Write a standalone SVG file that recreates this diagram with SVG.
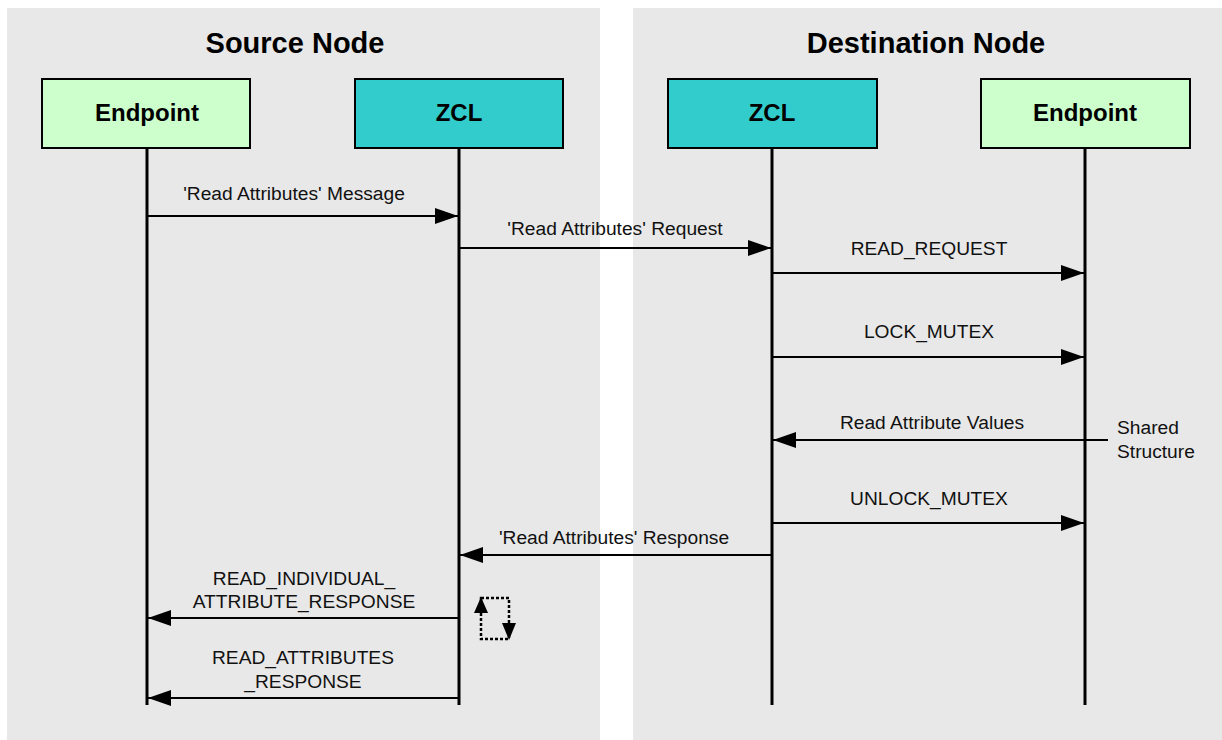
<svg xmlns="http://www.w3.org/2000/svg" width="1222" height="740" viewBox="0 0 1222 740">
<style>
.panel{fill:#e8e8e8}
.title{font-family:"Liberation Sans",Arial,sans-serif;font-weight:bold;font-size:29px;fill:#000;text-anchor:middle}
.box{stroke:#000;stroke-width:2}
.ep{fill:#ccffcc}
.zcl{fill:#33cccc}
.blabel{font-family:"Liberation Sans",Arial,sans-serif;font-weight:bold;font-size:24px;fill:#000;text-anchor:middle}
.life{stroke:#000;stroke-width:3;fill:none}
.msg{stroke:#000;stroke-width:2;fill:none;marker-end:url(#ah)}
.lbl{font-family:"Liberation Sans",Arial,sans-serif;font-size:19.2px;fill:#111;text-anchor:middle}
.note{font-family:"Liberation Sans",Arial,sans-serif;font-size:19.2px;fill:#111}
.loop{stroke:#000;stroke-width:2.5;fill:none;stroke-dasharray:3 2}
</style>
<defs>
<marker id="ah" markerUnits="userSpaceOnUse" markerWidth="24" markerHeight="16" refX="23" refY="8" orient="auto">
<path d="M0,0 L23,8 L0,16 Z" fill="#000"/>
</marker>
</defs>
<rect class="panel" x="7" y="8" width="593" height="732"/>
<rect class="panel" x="633" y="8" width="589" height="732"/>
<text class="title" x="295" y="53">Source Node</text>
<text class="title" x="926" y="53">Destination Node</text>

<g id="src-endpoint">
<rect class="box ep" x="42" y="79" width="208" height="69"/>
<text class="blabel" x="147" y="121">Endpoint</text>
<line class="life" x1="147" y1="148" x2="147" y2="705"/>
</g>
<g id="src-zcl">
<rect class="box zcl" x="355" y="79" width="208" height="69"/>
<text class="blabel" x="459" y="121">ZCL</text>
<line class="life" x1="459" y1="148" x2="459" y2="705"/>
</g>
<g id="dst-zcl">
<rect class="box zcl" x="668" y="79" width="209" height="69"/>
<text class="blabel" x="772" y="121">ZCL</text>
<line class="life" x1="772" y1="148" x2="772" y2="705"/>
</g>
<g id="dst-endpoint">
<rect class="box ep" x="981" y="79" width="209" height="69"/>
<text class="blabel" x="1085" y="121">Endpoint</text>
<line class="life" x1="1085" y1="148" x2="1085" y2="705"/>
</g>

<g id="connectors">
<line class="msg" x1="147" y1="216" x2="458" y2="216"/>
<text class="lbl" x="294" y="200">'Read Attributes' Message</text>

<line class="msg" x1="459" y1="248" x2="771" y2="248"/>
<text class="lbl" x="615" y="235">'Read Attributes' Request</text>

<line class="msg" x1="772" y1="273" x2="1084" y2="273"/>
<text class="lbl" x="929" y="255">READ_REQUEST</text>

<line class="msg" x1="772" y1="357" x2="1084" y2="357"/>
<text class="lbl" x="929" y="338">LOCK_MUTEX</text>

<line class="msg" x1="1108" y1="440" x2="773" y2="440"/>
<text class="lbl" x="932" y="429">Read Attribute Values</text>

<line class="msg" x1="772" y1="523" x2="1084" y2="523"/>
<text class="lbl" x="929" y="505">UNLOCK_MUTEX</text>

<line class="msg" x1="772" y1="555" x2="460" y2="555"/>
<text class="lbl" x="614" y="544">'Read Attributes' Response</text>

<line class="msg" x1="459" y1="618" x2="148" y2="618"/>
<text class="lbl" x="304" y="585">READ_INDIVIDUAL_</text>
<text class="lbl" x="304" y="608">ATTRIBUTE_RESPONSE</text>

<line class="msg" x1="459" y1="698" x2="148" y2="698"/>
<text class="lbl" x="303" y="664">READ_ATTRIBUTES</text>
<text class="lbl" x="303" y="688">_RESPONSE</text>
</g>

<g id="shared-structure">
<text class="note" x="1117" y="434">Shared</text>
<text class="note" x="1117" y="458">Structure</text>
</g>

<g id="loop">
<rect class="loop" x="481" y="598" width="28" height="41"/>
<path d="M481,597 L488,613 L474,613 Z" fill="#000"/>
<path d="M509,640 L502,623 L516,623 Z" fill="#000"/>
</g>
</svg>
